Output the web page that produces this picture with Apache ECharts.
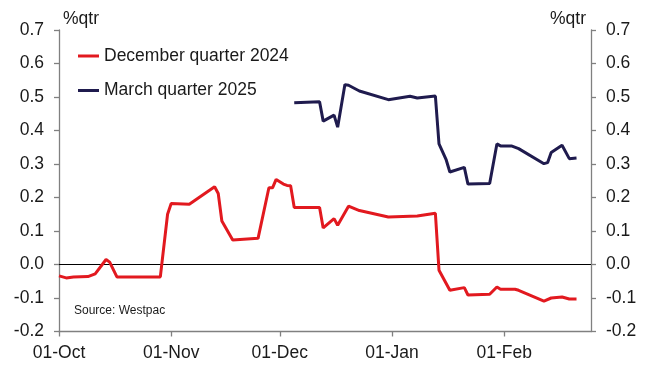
<!DOCTYPE html>
<html>
<head>
<meta charset="utf-8">
<style>
  html, body { margin: 0; padding: 0; background: #ffffff; }
  #chart { width: 646px; height: 365px; }
</style>
<script src="https://cdn.jsdelivr.net/npm/echarts@6/dist/echarts.min.js"></script>
</head>
<body>
<div id="chart"></div>
<script>
// Market-implied quarterly change, by pricing date
const decDates = [
  '2024-10-01','2024-10-03','2024-10-05','2024-10-09','2024-10-11','2024-10-14','2024-10-15',
  '2024-10-17','2024-10-29','2024-10-31','2024-11-01','2024-11-06','2024-11-13','2024-11-14',
  '2024-11-15','2024-11-18','2024-11-25','2024-11-28','2024-11-29','2024-11-30','2024-12-02',
  '2024-12-03','2024-12-04','2024-12-05','2024-12-12','2024-12-13','2024-12-16','2024-12-17',
  '2024-12-20','2024-12-23','2024-12-31','2025-01-08','2025-01-13','2025-01-14','2025-01-17',
  '2025-01-21','2025-01-22','2025-01-28','2025-01-30','2025-01-31','2025-02-04','2025-02-05',
  '2025-02-12','2025-02-14','2025-02-17','2025-02-19','2025-02-21'
];
const decValues = [
  -0.034,-0.040,-0.037,-0.036,-0.028,0.015,0.007,
  -0.037,-0.037,0.150,0.182,0.180,0.232,0.212,
  0.130,0.073,0.078,0.229,0.229,0.254,0.240,
  0.236,0.235,0.170,0.170,0.109,0.137,0.117,
  0.174,0.161,0.142,0.145,0.153,-0.017,-0.077,
  -0.069,-0.091,-0.089,-0.067,-0.074,-0.074,-0.077,
  -0.109,-0.100,-0.097,-0.103,-0.103
];

const marDates = [
  '2024-12-05','2024-12-12','2024-12-13','2024-12-16','2024-12-17','2024-12-19','2024-12-20',
  '2024-12-23','2024-12-31','2025-01-06','2025-01-08','2025-01-13','2025-01-14','2025-01-16',
  '2025-01-17','2025-01-21','2025-01-22','2025-01-28','2025-01-30','2025-01-31','2025-02-03',
  '2025-02-05','2025-02-12','2025-02-13','2025-02-14','2025-02-17','2025-02-19','2025-02-21'
];
const marValues = [
  0.483,0.486,0.428,0.446,0.410,0.537,0.535,
  0.518,0.492,0.502,0.497,0.503,0.360,0.312,
  0.276,0.290,0.240,0.242,0.360,0.354,0.354,
  0.346,0.301,0.304,0.334,0.356,0.316,0.318
];

const seriesNames = ['December quarter 2024', 'March quarter 2025'];
const tickDates = ['2024-10-01','2024-11-01','2024-12-01','2025-01-01','2025-02-01'];
const tickLabels = ['01-Oct','01-Nov','01-Dec','01-Jan','01-Feb'];
const xRange = ['2024-10-01','2025-02-25'];
const yRange = [-0.2, 0.7];
const yStep = 0.1;
const unitLabel = '%qtr';
const sourceNote = 'Source: Westpac';

const FONT = '"Liberation Sans", Arial, sans-serif';
const FS = 17.5;
const TEXT = '#1a1a1a';
const AXIS = '#808080';
const RED = '#e2191f';
const NAVY = '#1f1b4e';

// dates become millisecond timestamps on a linear x scale
const toTime = s => {
  const [y, m, d] = s.split('-').map(Number);
  return Date.UTC(y, m - 1, d);
};
const tickValues = tickDates.map(toTime);
const pair = (dates, vals) => dates.map((d, i) => [toTime(d), vals[i]]);

const yAxisBase = {
  type: 'value',
  min: yRange[0],
  max: yRange[1],
  interval: yStep,
  name: unitLabel,
  nameLocation: 'end',
  nameGap: 2,
  splitLine: { show: false },
  axisLine: { show: true, lineStyle: { color: AXIS, width: 1.3 } },
  axisTick: { show: true, inside: false, length: 5, lineStyle: { color: AXIS, width: 1.3 } },
  axisLabel: {
    color: TEXT, fontFamily: FONT, fontSize: FS, margin: 15,
    formatter: v => v.toFixed(1)
  }
};

const chart = echarts.init(document.getElementById('chart'), null, { renderer: 'canvas' });

chart.setOption({
  animation: false,
  backgroundColor: '#ffffff',
  grid: { left: 59, right: 55, top: 30, bottom: 33.5, containLabel: false },
  legend: {
    orient: 'vertical',
    left: 73,
    top: 41,
    icon: 'rect',
    itemWidth: 21,
    itemHeight: 3,
    itemGap: 14.5,
    textStyle: { color: TEXT, fontFamily: FONT, fontSize: FS, lineHeight: 20 },
    data: seriesNames
  },
  xAxis: {
    type: 'value',
    min: toTime(xRange[0]),
    max: toTime(xRange[1]),
    scale: true,
    splitLine: { show: false },
    axisLine: { show: true, onZero: false, lineStyle: { color: AXIS, width: 1.3 } },
    axisTick: {
      show: true, inside: false, length: 5,
      customValues: tickValues,
      lineStyle: { color: AXIS, width: 1.3 }
    },
    axisLabel: {
      color: TEXT, fontFamily: FONT, fontSize: FS, margin: 13,
      customValues: tickValues,
      showMinLabel: true,
      formatter: v => {
        const i = tickValues.indexOf(v);
        return i >= 0 ? tickLabels[i] : '';
      }
    }
  },
  yAxis: [
    Object.assign({}, yAxisBase, {
      position: 'left',
      nameTextStyle: { color: TEXT, fontFamily: FONT, fontSize: FS, align: 'left', padding: [0, 0, 0, 4] }
    }),
    Object.assign({}, yAxisBase, {
      position: 'right',
      nameTextStyle: { color: TEXT, fontFamily: FONT, fontSize: FS, align: 'right', padding: [0, 5, 0, 0] }
    })
  ],
  graphic: [{
    type: 'text',
    left: 74,
    top: 305,
    style: { text: sourceNote, fill: TEXT, font: '12px ' + FONT }
  }],
  series: [
    {
      name: seriesNames[0],
      type: 'line',
      yAxisIndex: 0,
      data: pair(decDates, decValues),
      symbol: 'none',
      lineStyle: { color: RED, width: 3 },
      itemStyle: { color: RED },
      z: 3,
      markLine: {
        silent: true,
        symbol: 'none',
        label: { show: false },
        lineStyle: { color: '#000000', width: 1, type: 'solid' },
        data: [{ yAxis: 0 }],
        z: 1
      }
    },
    {
      name: seriesNames[1],
      type: 'line',
      yAxisIndex: 0,
      data: pair(marDates, marValues),
      symbol: 'none',
      lineStyle: { color: NAVY, width: 3 },
      itemStyle: { color: NAVY },
      z: 3
    }
  ]
});
</script>
</body>
</html>
